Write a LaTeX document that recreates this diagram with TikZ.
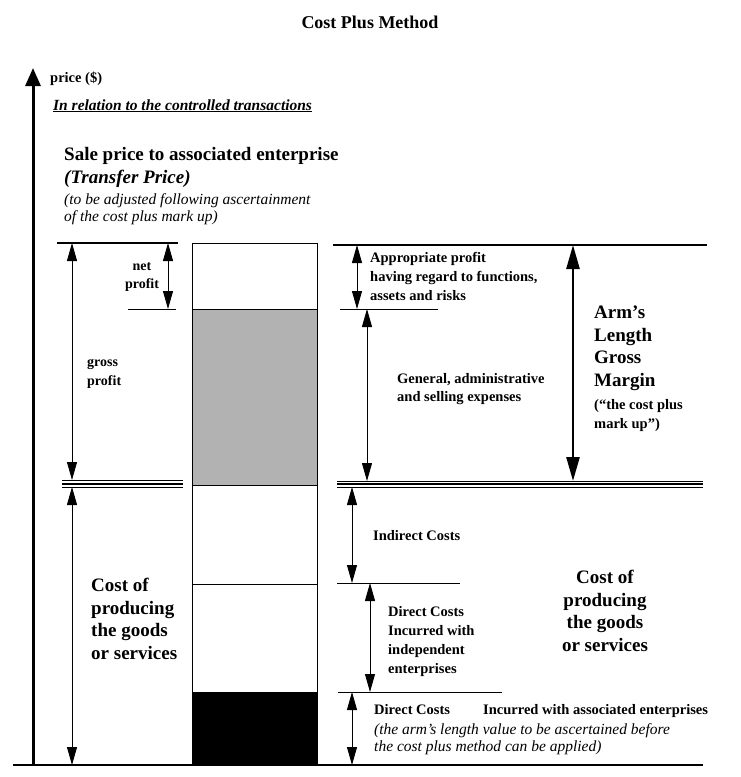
\documentclass[tikz,border=0pt]{standalone}
\usepackage{fontspec}
\setmainfont{Liberation Serif}
\usetikzlibrary{arrows.meta}

\tikzset{
  dimarrow/.style={{Triangle[length=18pt,width=10pt]}-{Triangle[length=18pt,width=10pt]},line width=.8pt},
  marginarrow/.style={{Triangle[length=24pt,width=13pt]}-{Triangle[length=24pt,width=13pt]},line width=2.6pt},
  levelline/.style={line width=.8pt},
  edgeline/.style={line width=2pt},
  lbl/.style={inner sep=0pt,anchor=base west,align=left},
  bigtext/.style={lbl,font=\fontsize{19}{22.5}\selectfont\bfseries},
  midtext/.style={lbl,font=\fontsize{14.5}{19}\selectfont\bfseries},
  notetext/.style={lbl,font=\fontsize{15.5}{17}\selectfont\itshape}
}

\begin{document}
\begin{tikzpicture}[x=1pt,y=-1pt]
\useasboundingbox (0,0) rectangle (741,777);

\node[lbl,anchor=base,font=\fontsize{18}{20}\selectfont\bfseries] (title) at (370,28) {Cost Plus Method};

% price axis
\coordinate (axisfoot) at (33,766);
\coordinate (axistip) at (33,68);
\draw[line width=3pt,-{Triangle[length=18pt,width=15pt]}] (axisfoot) -- (axistip);
\draw[edgeline] (13,765) -- (703,765);
\node[lbl,font=\fontsize{14.5}{17}\selectfont\bfseries] (price) at (50,82) {price (\$)};
\node[lbl,font=\fontsize{15.5}{17}\selectfont\bfseries\itshape] (relation) at (53,110) {\underline{In relation to the controlled transactions}};

% multi-line labels are placed by the baseline of their last line
\node[bigtext] (sale) at (64,183) {Sale price to associated enterprise\\\textit{(Transfer Price)}};
\node[notetext] (salenote) at (64,221) {(to be adjusted following ascertainment\\of the cost plus mark up)};

% the bar
\fill[black!30] (192,309) rectangle (317,485);
\fill[black] (192,692) rectangle (317,765);
\draw[levelline] (192,243) rectangle (317,765);
\foreach \y in {309,485,584} \draw[levelline] (192,\y) -- (317,\y);

% left side
\coordinate (gpTop) at (72,243);
\coordinate (gpBot) at (72,480);
\coordinate (npTop) at (168,243);
\coordinate (npBot) at (168,309);
\coordinate (cpTop) at (72,487);
\coordinate (cpBot) at (72,765);
\draw[edgeline] (57,243) -- (178,243);
\draw[levelline] (128,309) -- (176,309);
\draw[levelline] (62,480) -- (183,480);
\draw[line width=2.2pt] (62,484) -- (183,484);
\draw[levelline] (62,487.5) -- (183,487.5);
\draw[dimarrow] (gpTop) -- (gpBot);
\draw[dimarrow] (npTop) -- (npBot);
\draw[dimarrow] (cpTop) -- (cpBot);
\node[lbl,align=center,anchor=base,font=\fontsize{14}{18}\selectfont\bfseries] (netprofit) at (142,288) {net\\profit};
\node[lbl,font=\fontsize{14}{19}\selectfont\bfseries] (grossprofit) at (87,385) {gross\\profit};
\node[bigtext] (costleft) at (91,659) {Cost of\\producing\\the goods\\or services};

% right side
\coordinate (apTop) at (357,245);
\coordinate (apBot) at (357,309);
\coordinate (gaTop) at (367,309);
\coordinate (gaBot) at (367,481);
\coordinate (amTop) at (573,245);
\coordinate (amBot) at (573,481);
\coordinate (icTop) at (352,487);
\coordinate (icBot) at (352,583);
\coordinate (diTop) at (370,583);
\coordinate (diBot) at (370,692);
\coordinate (daTop) at (352,692);
\coordinate (daBot) at (352,765);
\draw[edgeline] (333,245) -- (707,245);
\draw[levelline] (340,309) -- (438,309);
\draw[levelline] (337,481) -- (703,481);
\draw[line width=2.2pt] (337,484) -- (703,484);
\draw[levelline] (337,487.5) -- (703,487.5);
\draw[levelline] (337,583) -- (460,583);
\draw[levelline] (338,692) -- (502,692);
\draw[dimarrow] (apTop) -- (apBot);
\draw[dimarrow] (gaTop) -- (gaBot);
\draw[marginarrow] (amTop) -- (amBot);
\draw[dimarrow] (icTop) -- (icBot);
\draw[dimarrow] (diTop) -- (diBot);
\draw[dimarrow] (daTop) -- (daBot);

\node[midtext] (approp) at (370,300) {Appropriate profit\\having regard to functions,\\assets and risks};
\node[midtext,font=\fontsize{14.5}{18}\selectfont\bfseries] (general) at (397,401) {General, administrative\\and selling expenses};
\node[bigtext] (armslength) at (594,386) {Arm’s\\Length\\Gross\\Margin};
\node[midtext] (armsnote) at (594,428) {(“the cost plus\\mark up”)};
\node[midtext] (indirect) at (373,540) {Indirect Costs};
\node[bigtext,align=center,anchor=base] (costright) at (605,651) {Cost of\\producing\\the goods\\or services};
\node[midtext] (directind) at (388,673) {Direct Costs\\Incurred with\\independent\\enterprises};
\node[midtext] (directass) at (374,714) {Direct Costs};
\node[midtext] (incurass) at (483,714) {Incurred with associated enterprises};
\node[notetext] (assnote) at (374,751) {(the arm’s length value to be ascertained before\\the cost plus method can be applied)};
\end{tikzpicture}
\end{document}
